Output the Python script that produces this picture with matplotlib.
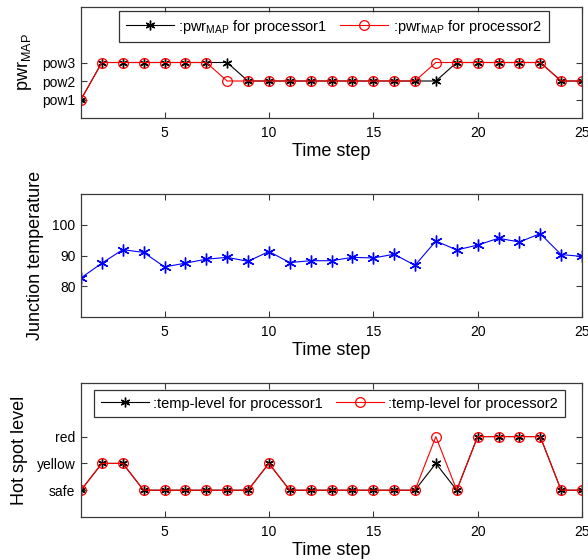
import matplotlib
matplotlib.use("Agg")
import matplotlib.pyplot as plt

plt.rcParams['font.family'] = ['Liberation Sans', 'DejaVu Sans']
plt.rcParams['mathtext.fontset'] = 'custom'
plt.rcParams['mathtext.rm'] = 'Liberation Sans'
plt.rcParams['mathtext.it'] = 'Liberation Sans'

time_steps = list(range(1, 26))
pwr_proc1 = [1, 3, 3, 3, 3, 3, 3, 3, 2, 2, 2, 2, 2, 2, 2, 2, 2, 2, 3, 3, 3, 3, 3, 2, 2]
pwr_proc2 = [1, 3, 3, 3, 3, 3, 3, 2, 2, 2, 2, 2, 2, 2, 2, 2, 2, 3, 3, 3, 3, 3, 3, 2, 2]
pwr_labels = ['pow1', 'pow2', 'pow3']

junction_temp = [82.7, 87.5, 91.9, 91.0, 86.3, 87.5, 88.8, 89.4, 88.1, 91.3,
                 87.7, 88.3, 88.3, 89.4, 89.2, 90.4, 86.8, 94.7, 91.8, 93.4,
                 95.6, 94.4, 97.1, 90.3, 89.7]

level_proc1 = [1, 2, 2, 1, 1, 1, 1, 1, 1, 2, 1, 1, 1, 1, 1, 1, 1, 2, 1, 3, 3, 3, 3, 1, 1]
level_proc2 = [1, 2, 2, 1, 1, 1, 1, 1, 1, 2, 1, 1, 1, 1, 1, 1, 1, 3, 1, 3, 3, 3, 3, 1, 1]
level_labels = ['safe', 'yellow', 'red']

W, H = 588, 560
fig = plt.figure(figsize=(W / 100, H / 100), dpi=100)

def make_ax(left, top, right, bottom):
    return fig.add_axes([left / W, 1 - bottom / H, (right - left) / W, (bottom - top) / H])

ax1 = make_ax(81, 7, 582, 118)
ax2 = make_ax(81, 194, 582, 317)
ax3 = make_ax(81, 383, 582, 517)

axcol = '#3a3a3a'
ASTER = (6, 2, 0)
for ax in (ax1, ax2, ax3):
    ax.set_xlim(1, 25)
    ax.set_xticks([5, 10, 15, 20, 25])
    ax.tick_params(direction='in', top=True, right=True, labelsize=10,
                   length=4, width=0.8, color=axcol)
    ax.tick_params(axis='x', pad=6)
    ax.tick_params(axis='y', pad=4)
    for s in ax.spines.values():
        s.set_color(axcol)
        s.set_linewidth(0.9)
    ax.set_xlabel('Time step', fontsize=13, labelpad=2)

leg_kw = dict(loc='upper left', ncol=2, fontsize=10.5, frameon=True, fancybox=False,
              edgecolor='black', handlelength=3.3, columnspacing=0.9,
              handletextpad=0.3, borderpad=0.45, borderaxespad=0)

# Top panel
ax1.plot(time_steps, pwr_proc1, color='black', marker=ASTER, markersize=7, mew=1.0, lw=0.8,
         label=r':pwr$_{\mathrm{MAP}}$ for processor1')
ax1.plot(time_steps, pwr_proc2, color='red', marker='o', markersize=7, mew=0.9, lw=0.8,
         mfc='none', label=r':pwr$_{\mathrm{MAP}}$ for processor2')
ax1.set_ylim(0, 6)
ax1.set_yticks([1, 2, 3])
ax1.set_yticklabels(pwr_labels)
ax1.set_ylabel(r'pwr$_{\mathrm{MAP}}$', fontsize=13, labelpad=6)
leg1 = ax1.legend(bbox_to_anchor=((119 - 81) / 501, (118 - 11) / 111), **leg_kw)
leg1.get_frame().set_linewidth(0.9)

# Middle panel
ax2.plot(time_steps, junction_temp, color='blue', marker=ASTER, markersize=8.5, mew=1.0, lw=0.8)
ax2.set_ylim(70, 110)
ax2.set_yticks([80, 90, 100])
ax2.set_ylabel('Junction temperature', fontsize=13, labelpad=6)

# Bottom panel
ax3.plot(time_steps, level_proc1, color='black', marker=ASTER, markersize=7, mew=1.0, lw=0.8,
         label=':temp-level for processor1')
ax3.plot(time_steps, level_proc2, color='red', marker='o', markersize=7, mew=0.9, lw=0.8,
         mfc='none', label=':temp-level for processor2')
ax3.set_ylim(0, 5)
ax3.set_yticks([1, 2, 3])
ax3.set_yticklabels(level_labels)
ax3.set_ylabel('Hot spot level', fontsize=13, labelpad=6)
leg3 = ax3.legend(bbox_to_anchor=((94 - 81) / 501, (517 - 390) / 134), **leg_kw)
leg3.get_frame().set_linewidth(0.9)

fig.savefig('out.png', dpi=100)
